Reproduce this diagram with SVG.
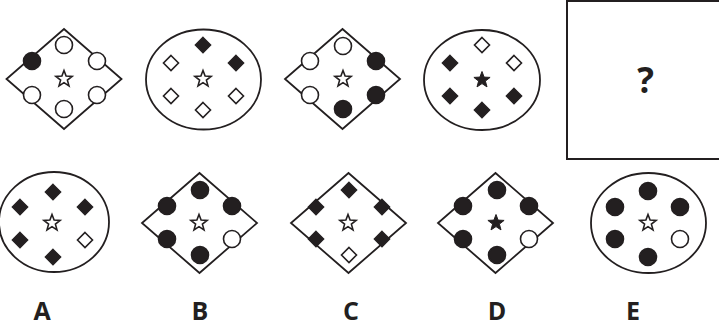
<svg xmlns="http://www.w3.org/2000/svg" xmlns:xlink="http://www.w3.org/1999/xlink" width="719" height="331" viewBox="0 0 719 331">
<style>
.frame{fill:#fff;stroke:#231f20;stroke-width:1.8}
.box{fill:#fff;stroke:#231f20;stroke-width:2}
.o{fill:#fff;stroke:#231f20;stroke-width:1.6}
.f{fill:#231f20;stroke:#231f20;stroke-width:1.6}
.so{fill:#fff;stroke:#231f20;stroke-width:1.6;stroke-linejoin:miter}
.sf{fill:#231f20;stroke:#231f20;stroke-width:1}
.lbl{font-family:"Open Sans","Liberation Sans",sans-serif;font-weight:700;font-size:25px;fill:#231f20;text-anchor:middle}
</style>
<defs>
<path id="star" d="M0,-8.5 L2.1,-2.9 L8.1,-2.6 L3.4,1.1 L5,6.9 L0,3.6 L-5,6.9 L-3.4,1.1 L-8.1,-2.6 L-2.1,-2.9Z"/>
<path id="dm" d="M0,-7.5 L7.5,0 L0,7.5 L-7.5,0Z"/>
</defs>
<rect width="719" height="331" fill="#fff"/>

<g id="fig1">
<polygon class="frame" points="64,29 121.5,79 64,129 6.5,79"/>
<circle class="o" cx="64" cy="45" r="8.5"/>
<circle class="f" cx="32" cy="61" r="8.5"/>
<circle class="o" cx="97" cy="61" r="8.5"/>
<circle class="o" cx="32" cy="95" r="8.5"/>
<circle class="o" cx="97" cy="95" r="8.5"/>
<circle class="o" cx="64" cy="109" r="8.5"/>
<use xlink:href="#star" class="so" x="64" y="79"/>
</g>

<g id="fig2">
<ellipse class="frame" cx="203.5" cy="79.5" rx="57.5" ry="50"/>
<use xlink:href="#dm" class="f" x="203" y="45"/>
<use xlink:href="#dm" class="o" x="171" y="63"/>
<use xlink:href="#dm" class="f" x="236" y="63"/>
<use xlink:href="#dm" class="o" x="171" y="96"/>
<use xlink:href="#dm" class="o" x="236" y="96"/>
<use xlink:href="#dm" class="o" x="203" y="110"/>
<use xlink:href="#star" class="so" x="203" y="79"/>
</g>

<g id="fig3">
<polygon class="frame" points="342.5,29 400,79 342.5,129 285,79"/>
<circle class="o" cx="343" cy="46" r="8.5"/>
<circle class="o" cx="310" cy="61" r="8.5"/>
<circle class="f" cx="376" cy="61" r="8.5"/>
<circle class="o" cx="310" cy="95" r="8.5"/>
<circle class="f" cx="376" cy="95" r="8.5"/>
<circle class="f" cx="343" cy="109" r="8.5"/>
<use xlink:href="#star" class="so" x="343" y="79"/>
</g>

<g id="fig4">
<ellipse class="frame" cx="482" cy="80" rx="58" ry="50"/>
<use xlink:href="#dm" class="o" x="482" y="45"/>
<use xlink:href="#dm" class="f" x="450" y="63"/>
<use xlink:href="#dm" class="o" x="514" y="63"/>
<use xlink:href="#dm" class="f" x="450" y="96"/>
<use xlink:href="#dm" class="f" x="514" y="96"/>
<use xlink:href="#dm" class="f" x="482" y="110"/>
<use xlink:href="#star" class="sf" x="482" y="80"/>
</g>

<g id="question">
<rect class="box" x="567" y="1" width="160" height="158"/>
<text class="lbl" x="645.5" y="93" style="font-size:35px">?</text>
</g>

<g id="optA">
<ellipse class="frame" cx="54" cy="222" rx="55" ry="50"/>
<use xlink:href="#dm" class="f" x="53" y="192"/>
<use xlink:href="#dm" class="f" x="20" y="207"/>
<use xlink:href="#dm" class="f" x="85" y="207"/>
<use xlink:href="#dm" class="f" x="20" y="240"/>
<use xlink:href="#dm" class="o" x="85" y="240"/>
<use xlink:href="#dm" class="f" x="53" y="257"/>
<use xlink:href="#star" class="so" x="52" y="223"/>
<text class="lbl" x="42" y="320">A</text>
</g>

<g id="optB">
<polygon class="frame" points="199.5,173 257,223 199.5,273 142,223"/>
<circle class="f" cx="200" cy="190" r="8.5"/>
<circle class="f" cx="167" cy="206" r="8.5"/>
<circle class="f" cx="232" cy="206" r="8.5"/>
<circle class="f" cx="167" cy="239" r="8.5"/>
<circle class="o" cx="232" cy="239" r="8.5"/>
<circle class="f" cx="200" cy="255" r="8.5"/>
<use xlink:href="#star" class="so" x="199" y="223"/>
<text class="lbl" x="200" y="320">B</text>
</g>

<g id="optC">
<polygon class="frame" points="348.5,173 406,223 348.5,273 291,223"/>
<use xlink:href="#dm" class="f" x="349" y="190"/>
<use xlink:href="#dm" class="f" x="316" y="207"/>
<use xlink:href="#dm" class="f" x="382" y="207"/>
<use xlink:href="#dm" class="f" x="316" y="239"/>
<use xlink:href="#dm" class="f" x="382" y="239"/>
<use xlink:href="#dm" class="o" x="349" y="255"/>
<use xlink:href="#star" class="so" x="348" y="223"/>
<text class="lbl" x="351" y="320">C</text>
</g>

<g id="optD">
<polygon class="frame" points="495.5,173 553,223 495.5,273 438,223"/>
<circle class="f" cx="497" cy="190" r="8.5"/>
<circle class="f" cx="463" cy="206" r="8.5"/>
<circle class="f" cx="529" cy="206" r="8.5"/>
<circle class="f" cx="463" cy="239" r="8.5"/>
<circle class="o" cx="529" cy="239" r="8.5"/>
<circle class="f" cx="497" cy="255" r="8.5"/>
<use xlink:href="#star" class="sf" x="496" y="223"/>
<text class="lbl" x="497" y="320">D</text>
</g>

<g id="optE">
<ellipse class="frame" cx="648.5" cy="223" rx="57.5" ry="50"/>
<circle class="f" cx="648" cy="191" r="8.5"/>
<circle class="f" cx="615" cy="207" r="8.5"/>
<circle class="f" cx="680" cy="207" r="8.5"/>
<circle class="f" cx="615" cy="239" r="8.5"/>
<circle class="o" cx="680" cy="239" r="8.5"/>
<circle class="f" cx="648" cy="257" r="8.5"/>
<use xlink:href="#star" class="so" x="648" y="223"/>
<text class="lbl" x="633" y="320">E</text>
</g>
</svg>
